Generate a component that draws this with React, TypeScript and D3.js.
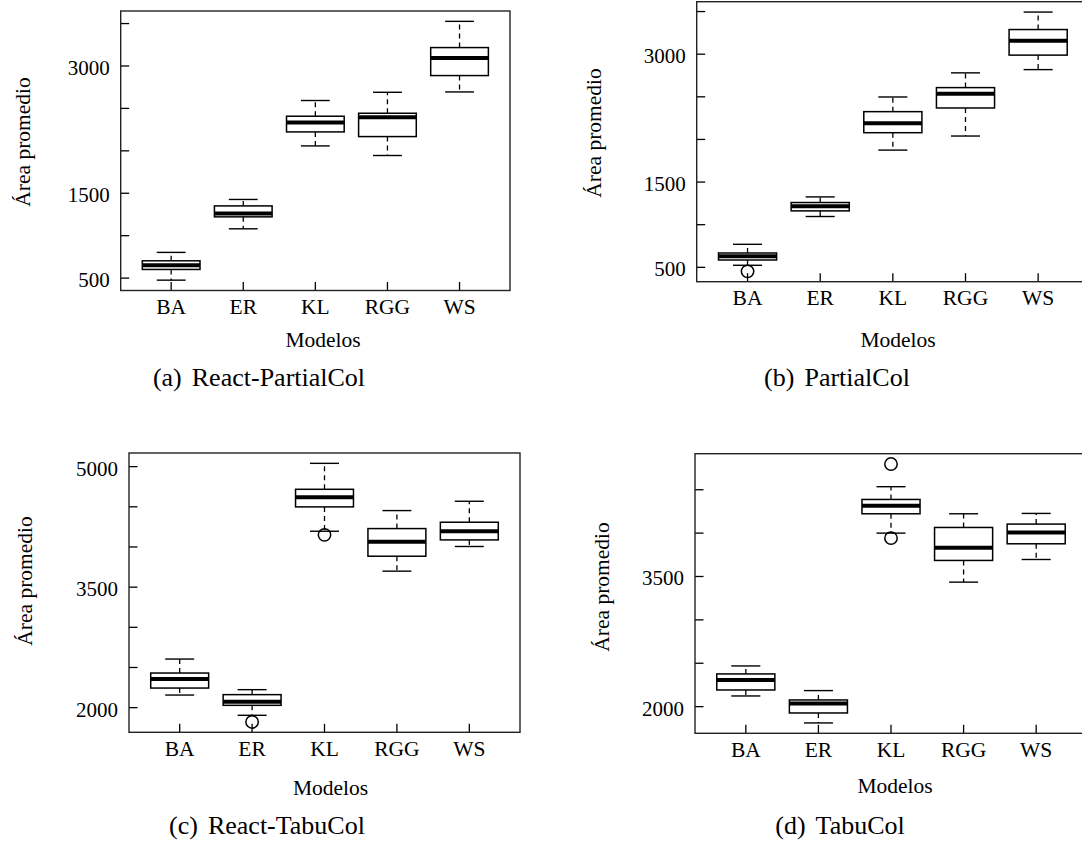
import * as d3 from 'd3';

const W = 1082;
const H = 842;
const FONT = '"Liberation Serif", "Times New Roman", serif';

const categories = ['BA', 'ER', 'KL', 'RGG', 'WS'];

// [lower whisker, Q1, median, Q3, upper whisker] per model
const reactPartialColStats = [
  [476, 602, 653, 704, 803],
  [1081, 1222, 1262, 1351, 1427],
  [2058, 2223, 2334, 2408, 2593],
  [1945, 2168, 2396, 2443, 2690],
  [2694, 2887, 3094, 3217, 3526],
];
const reactPartialColOutliers: number[][] = [[], [], [], [], []];

const partialColStats = [
  [524, 586, 629, 668, 770],
  [1096, 1162, 1217, 1260, 1326],
  [1875, 2079, 2189, 2326, 2498],
  [2040, 2369, 2537, 2608, 2781],
  [2819, 2989, 3157, 3289, 3494],
];
const partialColOutliers: number[][] = [[453], [], [], [], []];

const reactTabuColStats = [
  [2157, 2244, 2356, 2431, 2605],
  [1905, 2029, 2075, 2162, 2224],
  [4196, 4499, 4619, 4718, 5041],
  [3699, 3885, 4064, 4229, 4453],
  [4006, 4088, 4196, 4308, 4569],
];
const reactTabuColOutliers: number[][] = [[], [1822], [4151], [], []];

const tabuColStats = [
  [2123, 2192, 2308, 2377, 2469],
  [1812, 1927, 2035, 2077, 2185],
  [4000, 4223, 4315, 4388, 4535],
  [3435, 3685, 3831, 4065, 4223],
  [3696, 3877, 4008, 4104, 4227],
];
const tabuColOutliers: number[][] = [[], [], [4796, 3942], [], []];

const labelsPartial = [500, 1500, 3000];
const labelsReactTabu = [2000, 3500, 5000];
const labelsTabu = [2000, 3500];

const panels = [
  {
    tag: '(a)', name: 'React-PartialCol', stats: reactPartialColStats, outliers: reactPartialColOutliers,
    labels: labelsPartial, left: 120.7, right: 510, top: 11, bottom: 290.5,
    ylabX: 29.5, ylabY: 142, xlabX: 323, xlabY: 347, capX: 259, capY: 386,
  },
  {
    tag: '(b)', name: 'PartialCol', stats: partialColStats, outliers: partialColOutliers,
    labels: labelsPartial, left: 696.7, right: 1089, top: 1.7, bottom: 281.7,
    ylabX: 601, ylabY: 133, xlabX: 898, xlabY: 347, capX: 837, capY: 386,
  },
  {
    tag: '(c)', name: 'React-TabuCol', stats: reactTabuColStats, outliers: reactTabuColOutliers,
    labels: labelsReactTabu, left: 129, right: 520, top: 453, bottom: 732.3,
    ylabX: 32, ylabY: 581, xlabX: 330.5, xlabY: 795, capX: 267, capY: 834,
  },
  {
    tag: '(d)', name: 'TabuCol', stats: tabuColStats, outliers: tabuColOutliers,
    labels: labelsTabu, left: 695, right: 1087, top: 453.7, bottom: 733.3,
    ylabX: 609, ylabY: 587, xlabX: 895, xlabY: 793.3, capX: 840, capY: 834,
  },
];

type Panel = (typeof panels)[number];

function BoxPanel({ p }: { p: Panel }) {
  const all = [...p.stats.flat(), ...p.outliers.flat()];
  const lo = d3.min(all)!;
  const hi = d3.max(all)!;
  const pad = (hi - lo) * 0.04;
  const y = d3.scaleLinear().domain([lo - pad, hi + pad]).range([p.bottom, p.top]);
  const x = d3.scaleLinear().domain([0.3, categories.length + 0.7]).range([p.left, p.right]);
  const unit = x(1) - x(0);
  const boxW = unit * 0.8;
  const capW = unit * 0.4;
  const ticks = d3.range(Math.ceil((lo - pad) / 500) * 500, hi + pad, 500);

  return (
    <g>
      {categories.map((c, i) => {
        const [wl, q1, med, q3, wh] = p.stats[i];
        const cx = x(i + 1);
        return (
          <g key={c}>
            <line x1={cx} x2={cx} y1={y(q3)} y2={y(wh)} stroke="#000" strokeWidth={1.3} strokeDasharray="5,4" />
            <line x1={cx} x2={cx} y1={y(q1)} y2={y(wl)} stroke="#000" strokeWidth={1.3} strokeDasharray="5,4" />
            <line x1={cx - capW / 2} x2={cx + capW / 2} y1={y(wh)} y2={y(wh)} stroke="#000" strokeWidth={1.4} />
            <line x1={cx - capW / 2} x2={cx + capW / 2} y1={y(wl)} y2={y(wl)} stroke="#000" strokeWidth={1.4} />
            <rect x={cx - boxW / 2} y={y(q3)} width={boxW} height={y(q1) - y(q3)} fill="#fff" stroke="#000" strokeWidth={1.5} />
            <line x1={cx - boxW / 2} x2={cx + boxW / 2} y1={y(med)} y2={y(med)} stroke="#000" strokeWidth={4} />
            {p.outliers[i].map((o, j) => (
              <circle key={j} cx={cx} cy={y(o)} r={6.2} fill="none" stroke="#000" strokeWidth={1.5} />
            ))}
            <line x1={cx} x2={cx} y1={p.bottom} y2={p.bottom - 8.5} stroke="#000" strokeWidth={1.3} />
            <text x={cx} y={p.bottom + 23.5} textAnchor="middle" fontSize={21.5} fontFamily={FONT}>{c}</text>
          </g>
        );
      })}
      {ticks.map((t) => (
        <g key={t}>
          <line x1={p.left} x2={p.left + 8.5} y1={y(t)} y2={y(t)} stroke="#000" strokeWidth={1.3} />
          {p.labels.includes(t) && (
            <text x={p.left - 11} y={y(t) + 9} textAnchor="end" fontSize={21} fontFamily={FONT}>{t}</text>
          )}
        </g>
      ))}
      <rect x={p.left} y={p.top} width={p.right - p.left} height={p.bottom - p.top} fill="none" stroke="#222" strokeWidth={1.4} />
      <text transform={`translate(${p.ylabX},${p.ylabY}) rotate(-90)`} textAnchor="middle" fontSize={21.5} fontFamily={FONT}>Área promedio</text>
      <text x={p.xlabX} y={p.xlabY} textAnchor="middle" fontSize={21.5} fontFamily={FONT}>Modelos</text>
      <text x={p.capX} y={p.capY} textAnchor="middle" fontSize={26} fontFamily={FONT}>
        {p.tag}
        <tspan dx={10}>{p.name}</tspan>
      </text>
    </g>
  );
}

export default function App() {
  return (
    <svg width={W} height={H} viewBox={`0 0 ${W} ${H}`} style={{ position: 'absolute', left: 0, top: 0, background: '#fff' }}>
      <rect width={W} height={H} fill="#fff" />
      {panels.map((p) => (
        <BoxPanel key={p.tag} p={p} />
      ))}
    </svg>
  );
}
